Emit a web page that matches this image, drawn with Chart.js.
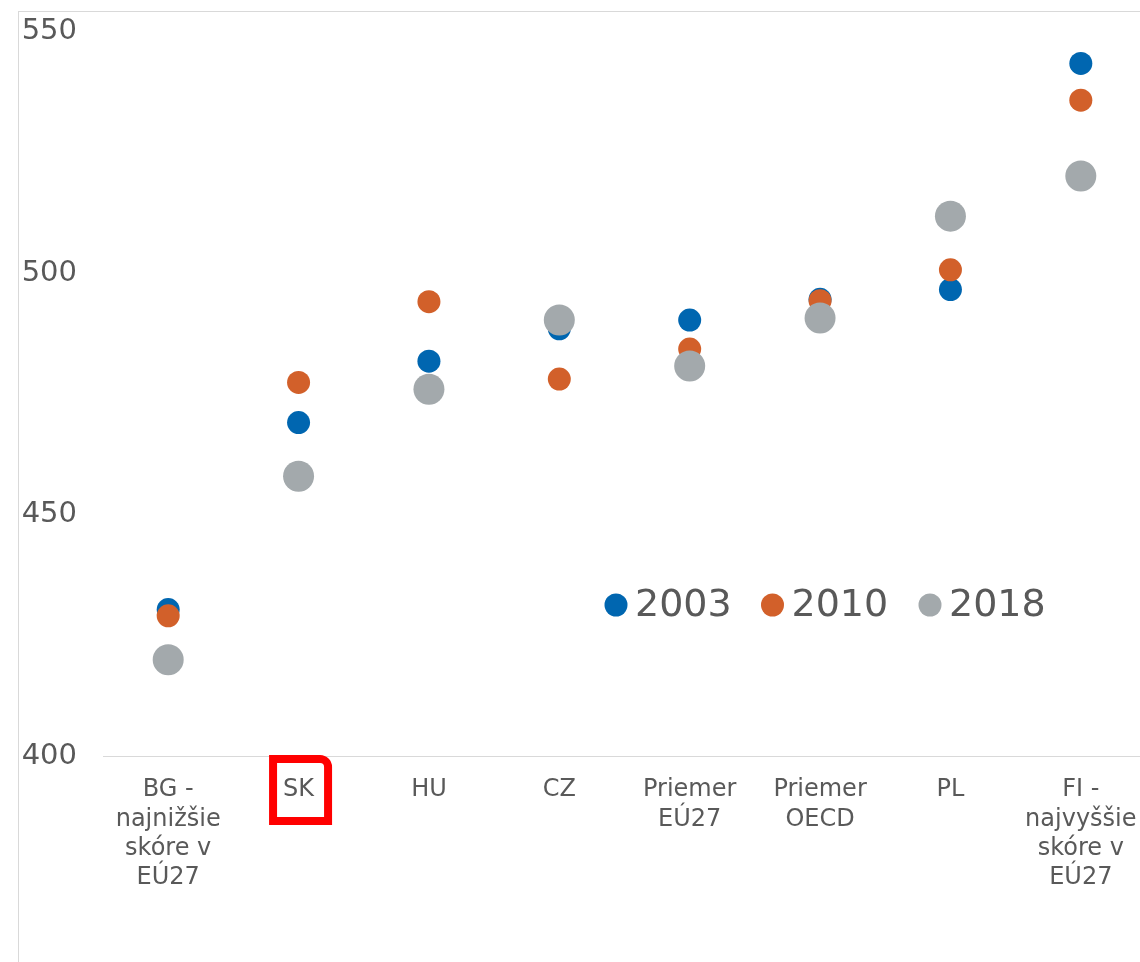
<!DOCTYPE html>
<html lang="sk">
<head>
<meta charset="utf-8">
<title>PISA skóre</title>
<script src="https://cdn.jsdelivr.net/npm/chart.js@4/dist/chart.umd.min.js"></script>
<style>
    html, body { margin: 0; padding: 0; background: #fff; overflow: hidden; }
    #ramec { position: absolute; left: 18px; top: 11px; right: 0; bottom: 0;
             border-left: 1px solid #d9d9d9; border-top: 1px solid #d9d9d9; }
    #graf { position: absolute; left: 0; top: 0; }
</style>
</head>
<body>
<div id="ramec"></div>
<canvas id="graf" width="1147" height="962"></canvas>
<script>
// Kategórie (viacriadkové popisky osi X)
const krajiny = [
    ['BG -', 'najnižšie', 'skóre v', 'EÚ27'],
    'SK',
    'HU',
    'CZ',
    ['Priemer', 'EÚ27'],
    ['Priemer', 'OECD'],
    'PL',
    ['FI -', 'najvyššie', 'skóre v', 'EÚ27']
];

// Skóre podľa rokov
const skore2003 = [430.4, 469.1, 481.8, 488.5, 490.3, 494.6, 496.6, 543.4];
const skore2010 = [429.1, 477.4, 494.1, 478.1, 484.3, 494.3, 500.7, 535.8];
const skore2018 = [420.0, 458.0, 476.0, 490.3, 480.8, 490.7, 511.8, 520.1];

// Os Y
const osYMin = 400;
const osYMax = 550;
const osYKrok = 50;

const farby = { r2003: '#0066b0', r2010: '#d2602a', r2018: '#a3a9ac' };
const sivyText = '#595959';
const pismo = '"DejaVu Sans", Verdana, sans-serif';

// Legenda vo vnútri grafu
const legendaPlugin = {
    id: 'legenda',
    afterDraw(chart) {
        const ctx = chart.ctx;
        const y = 605;
        const polohy = [616, 772.5, 930];
        ctx.save();
        ctx.font = '38px ' + pismo;
        ctx.textBaseline = 'middle';
        ctx.textAlign = 'left';
        chart.data.datasets.forEach((ds, i) => {
            ctx.fillStyle = ds.backgroundColor;
            ctx.beginPath();
            ctx.arc(polohy[i], y, 11.5, 0, Math.PI * 2);
            ctx.fill();
            ctx.fillStyle = sivyText;
            ctx.fillText(ds.label, polohy[i] + 19, y + 1);
        });
        ctx.restore();
    }
};

// Červený rámik okolo SK
const ramikPlugin = {
    id: 'ramikSK',
    afterDraw(chart) {
        const ctx = chart.ctx;
        const x = chart.scales.x.getPixelForValue(1) + 2;
        const dno = chart.chartArea.bottom;
        ctx.save();
        ctx.strokeStyle = '#ff0000';
        ctx.lineWidth = 8;
        ctx.beginPath();
        ctx.roundRect(x - 27.5, dno + 2.5, 55, 62, [0, 8, 0, 0]);
        ctx.stroke();
        ctx.restore();
    }
};

new Chart(document.getElementById('graf'), {
    type: 'line',
    data: {
        labels: krajiny,
        datasets: [
            { label: '2003', data: skore2003, backgroundColor: farby.r2003, pointRadius: 11.5, order: 3 },
            { label: '2010', data: skore2010, backgroundColor: farby.r2010, pointRadius: 11.5, order: 2 },
            { label: '2018', data: skore2018, backgroundColor: farby.r2018, pointRadius: 15.5, order: 1 }
        ].map(ds => Object.assign(ds, {
            showLine: false,
            borderWidth: 0,
            pointBorderWidth: 0,
            pointHoverRadius: ds.pointRadius,
            pointBackgroundColor: ds.backgroundColor,
            borderColor: ds.backgroundColor
        }))
    },
    options: {
        responsive: false,
        animation: false,
        devicePixelRatio: 1,
        layout: { autoPadding: false, padding: { top: 31.5, right: 1, left: 0, bottom: 0 } },
        plugins: {
            legend: { display: false },
            tooltip: { enabled: false }
        },
        scales: {
            x: {
                offset: true,
                grid: { display: false, drawTicks: false },
                border: { display: true, color: '#d9d9d9', width: 1 },
                ticks: {
                    color: sivyText,
                    font: { family: pismo, size: 24, lineHeight: 1.22 },
                    padding: 19,
                    maxRotation: 0,
                    autoSkip: false
                },
                afterFit(scale) {
                    scale.height = 205.5;
                    scale.paddingLeft = 0;
                    scale.paddingRight = 0;
                }
            },
            y: {
                min: osYMin,
                max: osYMax,
                grid: { display: false, drawTicks: false },
                border: { display: false },
                ticks: {
                    stepSize: osYKrok,
                    color: sivyText,
                    font: { family: pismo, size: 29 },
                    padding: 26
                },
                afterFit(scale) {
                    scale.width = 103;
                    scale.paddingTop = 0;
                    scale.paddingBottom = 0;
                }
            }
        }
    },
    plugins: [legendaPlugin, ramikPlugin]
});
</script>
</body>
</html>
